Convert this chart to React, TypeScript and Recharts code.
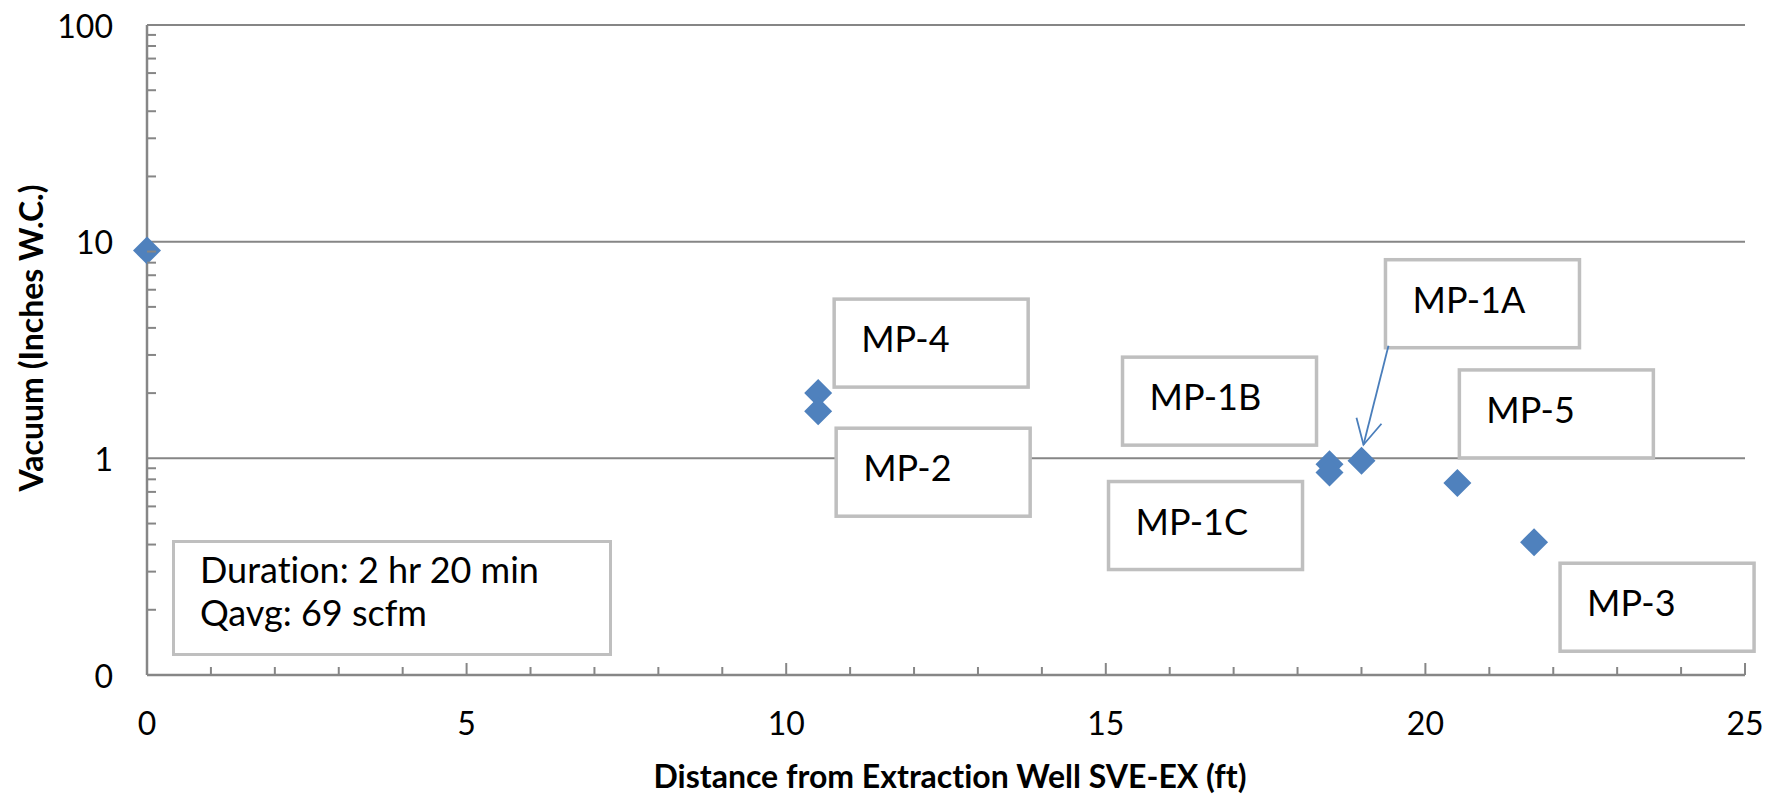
import React from 'react'
import { ScatterChart, Scatter, XAxis, YAxis, ReferenceLine } from 'recharts'

// Radius-of-influence test: vacuum at each monitoring point vs. distance from SVE-EX
const distanceFt = [0, 10.5, 10.5, 18.5, 18.5, 19, 20.5, 21.7]
const vacuumInWC = [9.1, 2.0, 1.65, 0.94, 0.86, 0.975, 0.77, 0.41]
const wellNames = ['SVE-EX', 'MP-4', 'MP-2', 'MP-1B', 'MP-1C', 'MP-1A', 'MP-5', 'MP-3']

const xTicks = [0, 1, 2, 3, 4, 5, 6, 7, 8, 9, 10, 11, 12, 13, 14, 15, 16, 17, 18, 19, 20, 21, 22, 23, 24, 25]
const xLabeledTicks = [0, 5, 10, 15, 20, 25]
const yMajorTicks = [0.1, 1, 10, 100]
const yMajorLabels = ['0', '1', '10', '100']
const yMinorTicks = [0.2, 0.3, 0.4, 0.5, 0.6, 0.7, 0.8, 0.9, 2, 3, 4, 5, 6, 7, 8, 9, 20, 30, 40, 50, 60, 70, 80, 90]
const gridValues = [1, 10, 100]

const data = distanceFt.map((x, i) => ({ x, y: vacuumInWC[i], name: wellNames[i] }))

const AXIS = '#868686'
const BOX = '#BFBFBF'
const MARKER = '#4F81BD'
const FONT = 'Lato, "Open Sans", sans-serif'

// callout box top-left, relative to the marker centre
const calloutOffsets: Record<string, [number, number]> = {
  'MP-4': [16, -94],
  'MP-2': [18, 17],
  'MP-1B': [-207, -107],
  'MP-1C': [-221, 9],
  'MP-1A': [24, -201],
  'MP-5': [2, -113],
  'MP-3': [26, 21],
}

const XTick = ({ x, y, payload }: any) => {
  const v = payload.value
  const major = xLabeledTicks.includes(v)
  return (
    <g>
      <line x1={x} x2={x} y1={y} y2={y - (major ? 12 : 8)} stroke={AXIS} strokeWidth={2} />
      {major && (
        <text x={x} y={y + 47} textAnchor="middle" dominantBaseline="central" fontSize={32} fill="#000">
          {v}
        </text>
      )}
    </g>
  )
}

const YTick = ({ x, y, payload }: any) => {
  const idx = yMajorTicks.indexOf(payload.value)
  if (idx < 0) {
    return <line x1={x} x2={x + 9} y1={y} y2={y} stroke={AXIS} strokeWidth={2} />
  }
  return (
    <text x={x - 34} y={y} textAnchor="end" dominantBaseline="central" fontSize={32} fill="#000">
      {yMajorLabels[idx]}
    </text>
  )
}

const Diamond = ({ cx, cy }: any) => {
  const r = 14
  return <polygon points={`${cx},${cy - r} ${cx + r},${cy} ${cx},${cy + r} ${cx - r},${cy}`} fill={MARKER} />
}

const Callout = ({ cx, cy, payload }: any) => {
  const off = calloutOffsets[payload.name]
  if (!off) return <g />
  const bx = cx + off[0]
  const by = cy + off[1]
  return (
    <g>
      <rect x={bx} y={by} width={194} height={88} fill="#fff" stroke={BOX} strokeWidth={3.5} />
      <text x={bx + 27} y={by + 53} fontSize={36} fill="#000">
        {payload.name}
      </text>
      {payload.name === 'MP-1A' && (
        <g stroke="#4A7EBB" strokeWidth={1.8} fill="none">
          <line x1={cx + 27} y1={cy - 115} x2={cx + 2} y2={cy - 16} />
          <polyline points={`${cx - 5},${cy - 43} ${cx + 2},${cy - 16} ${cx + 20},${cy - 37}`} />
        </g>
      )}
    </g>
  )
}

export default function App() {
  return (
    <div
      style={{
        position: 'absolute',
        left: 0,
        top: 0,
        width: 1767,
        height: 795,
        fontFamily: FONT,
        fontVariantLigatures: 'none',
        background: '#fff',
      }}
    >
      <ScatterChart width={1767} height={795} margin={{ top: 25, right: 22, bottom: 0, left: 0 }}>
        <XAxis
          type="number"
          dataKey="x"
          domain={[0, 25]}
          ticks={xTicks}
          interval={0}
          tickSize={0}
          tickMargin={0}
          tickLine={false}
          tick={<XTick />}
          height={120}
          axisLine={{ stroke: AXIS, strokeWidth: 2.5 }}
          label={(props: any) => {
            const { x, y, width } = props.viewBox
            return (
              <text x={x + width / 2 + 4} y={y + 100} textAnchor="middle" dominantBaseline="central" fontSize={32} fontWeight={700} fill="#000">
                Distance from Extraction Well SVE-EX (ft)
              </text>
            )
          }}
        />
        <YAxis
          type="number"
          dataKey="y"
          scale="log"
          domain={[0.1, 100]}
          allowDataOverflow
          ticks={[...yMajorTicks, ...yMinorTicks]}
          interval={0}
          tickSize={0}
          tickMargin={0}
          tickLine={false}
          tick={<YTick />}
          width={147}
          axisLine={{ stroke: AXIS, strokeWidth: 2.5 }}
          label={(props: any) => {
            const { x, y, height } = props.viewBox
            return (
              <text
                transform={`translate(${x + 30}, ${y + height / 2 - 12}) rotate(-90)`}
                textAnchor="middle"
                dominantBaseline="central"
                fontSize={32}
                fontWeight={700}
                fill="#000"
              >
                Vacuum (Inches W.C.)
              </text>
            )
          }}
        />
        {gridValues.map(v => (
          <ReferenceLine key={v} y={v} stroke={AXIS} strokeWidth={2} />
        ))}
        <Scatter data={data} shape={<Diamond />} isAnimationActive={false} />
        <Scatter data={data} shape={<Callout />} isAnimationActive={false} />
      </ScatterChart>
      <div
        style={{
          position: 'absolute',
          left: 172,
          top: 540,
          width: 440,
          height: 116,
          boxSizing: 'border-box',
          border: `3.5px solid ${BOX}`,
          background: '#fff',
          padding: '5px 0 0 25px',
          fontSize: 36,
          lineHeight: '43px',
          color: '#000',
        }}
      >
        <div>Duration: 2 hr 20 min</div>
        <div>Qavg: 69 scfm</div>
      </div>
    </div>
  )
}
